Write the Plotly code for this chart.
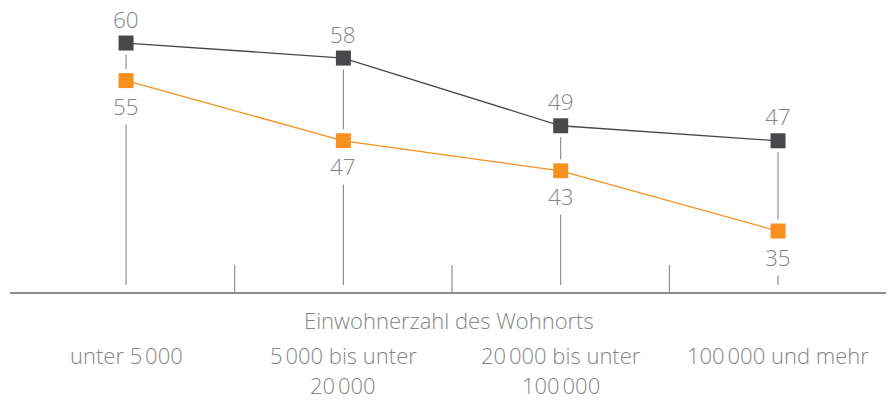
import plotly.graph_objects as go

categories = ["unter 5\u202f000", "5\u202f000 bis unter<br>20\u202f000",
              "20\u202f000 bis unter<br>100\u202f000", "100\u202f000 und mehr"]
series_dark = [60, 58, 49, 47]
series_orange = [55, 47, 43, 35]
axis_title = "Einwohnerzahl des Wohnorts"

DARK = "#48484a"
ORANGE = "#f7901e"
GRAY_TXT = "#858585"
LINE_GRAY = "#7a7a7a"
FONT = "Open Sans"

Y0, Y1 = 26.89, 62.93
x = list(range(len(categories)))
fig = go.Figure()

# vertical drop lines from near the axis to the upper marker
stem_bottom = Y0 + 7 / 7.52
for i in x:
    top = max(series_dark[i], series_orange[i])
    fig.add_trace(go.Scatter(x=[i, i], y=[stem_bottom, top], mode="lines",
                             line=dict(color=LINE_GRAY, width=1),
                             hoverinfo="skip", showlegend=False))

# white halos behind markers to create gaps in the stems
fig.add_trace(go.Scatter(x=x + x, y=series_dark + series_orange, mode="markers",
                         marker=dict(symbol="square", size=23, color="white"),
                         hoverinfo="skip", showlegend=False))

for vals, col in [(series_dark, DARK), (series_orange, ORANGE)]:
    fig.add_trace(go.Scatter(x=x, y=vals, mode="lines",
                             line=dict(color=col, width=1.3),
                             hoverinfo="skip", showlegend=False))
for vals, col in [(series_dark, DARK), (series_orange, ORANGE)]:
    fig.add_trace(go.Scatter(x=x, y=vals, mode="markers",
                             marker=dict(symbol="square", size=15, color=col),
                             showlegend=False))

lab_font = dict(family=FONT, size=22.5, color=GRAY_TXT, weight=300)
cat_font = dict(family=FONT, size=22, color=GRAY_TXT, weight=300)

annotations = []
for i in x:
    d, o = series_dark[i], series_orange[i]
    upper, lower = (d, o) if d >= o else (o, d)
    annotations.append(dict(x=i, y=upper, xref="x", yref="y", text=str(upper),
                            showarrow=False, yshift=24, font=lab_font))
    annotations.append(dict(x=i, y=lower, xref="x", yref="y", text=str(lower),
                            showarrow=False, yshift=-26, bgcolor="white", borderpad=2,
                            font=lab_font))

# category labels (one annotation per line)
for i, cat in enumerate(categories):
    for j, line in enumerate(cat.split("<br>")):
        annotations.append(dict(x=i, y=0, xref="x", yref="paper", text=line,
                                showarrow=False, yanchor="middle", yshift=-63 - 30 * j,
                                font=cat_font))

annotations.append(dict(x=0.5, y=0, xref="paper", yref="paper", text=axis_title,
                        showarrow=False, yanchor="middle", yshift=-28,
                        font=cat_font))

shapes = []
for k in range(len(categories) - 1):
    shapes.append(dict(type="line", xref="x", yref="paper", x0=k + 0.5, x1=k + 0.5,
                       y0=0, y1=27 / 271, line=dict(color=LINE_GRAY, width=1)))

fig.update_layout(
    width=894, height=400,
    margin=dict(l=2, r=14, t=13, b=116),
    paper_bgcolor="white", plot_bgcolor="white",
    xaxis=dict(range=[-0.534, 3.506], showgrid=False, zeroline=False,
               showticklabels=False, ticks="", showline=True,
               linecolor="#8c8c8c", linewidth=1.5, fixedrange=True),
    yaxis=dict(range=[Y0, Y1], showgrid=False, zeroline=False,
               showticklabels=False, ticks="", showline=False, fixedrange=True),
    annotations=annotations, shapes=shapes, showlegend=False,
)

fig.write_html("out.html")
